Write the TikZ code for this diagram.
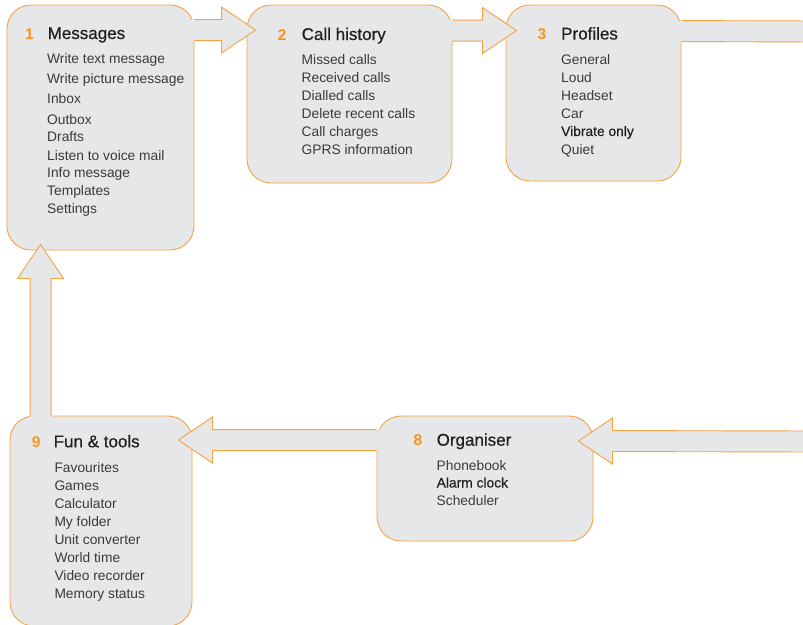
\documentclass[tikz,border=0pt]{standalone}
\usepackage{fontspec}
\setmainfont{Liberation Sans}
\newfontfamily\titlefont[FakeBold=0.6]{Liberation Sans}
\newfontfamily\medfont[FakeBold=0.3]{Liberation Sans}
\usetikzlibrary{calc}
\definecolor{boxfill}{HTML}{E6E7E8}
\definecolor{boxline}{HTML}{F6A343}
\definecolor{numorange}{HTML}{F7941D}
\definecolor{titlecol}{HTML}{231F20}
\definecolor{itemcol}{HTML}{3A3A3A}
\tikzset{
  menubox/.style={draw=boxline, fill=boxfill, line width=0.9pt, rounded corners=24pt, inner sep=0pt},
  num/.style={anchor=base west, inner sep=0pt, text=numorange, font=\fontsize{15.5}{16}\selectfont\bfseries},
  ttl/.style={anchor=base west, inner sep=0pt, text=titlecol, font=\fontsize{17}{17}\selectfont\titlefont},
  itm/.style={anchor=base west, inner sep=0pt, text=itemcol, font=\fontsize{13.8}{14}\selectfont},
  itmb/.style={itm, text=titlecol, font=\fontsize{13.8}{14}\selectfont\medfont},
  arrfill/.style={fill=boxfill},
  arrline/.style={draw=boxline, line width=0.9pt, line join=miter},
}
% horizontal block arrow: #1 start, #2 tip, #3 direction (1 right, -1 left)
\newcommand\harrow[3]{%
  \fill[arrfill] ($(#1)+({-3*(#3)},-10.5)$) -- ($(#2)+({-34*(#3)},-10.5)$) -- ($(#2)+({-34*(#3)},-23)$) -- (#2)
    -- ($(#2)+({-34*(#3)},23)$) -- ($(#2)+({-34*(#3)},10.5)$) -- ($(#1)+({-3*(#3)},10.5)$) -- cycle;
  \draw[arrline] ($(#1)+(0,-10.5)$) -- ($(#2)+({-34*(#3)},-10.5)$) -- ($(#2)+({-34*(#3)},-23)$) -- (#2)
    -- ($(#2)+({-34*(#3)},23)$) -- ($(#2)+({-34*(#3)},10.5)$) -- ($(#1)+(0,10.5)$);
}
% upward block arrow: #1 start, #2 tip
\newcommand\uarrow[2]{%
  \fill[arrfill] ($(#1)+(-10.5,3)$) -- ($(#2)+(-10.5,34)$) -- ($(#2)+(-23,34)$) -- (#2)
    -- ($(#2)+(23,34)$) -- ($(#2)+(10.5,34)$) -- ($(#1)+(10.5,3)$) -- cycle;
  \draw[arrline] ($(#1)+(-10.5,0)$) -- ($(#2)+(-10.5,34)$) -- ($(#2)+(-23,34)$) -- (#2)
    -- ($(#2)+(23,34)$) -- ($(#2)+(10.5,34)$) -- ($(#1)+(10.5,0)$);
}
\begin{document}
\begin{tikzpicture}[x=1pt,y=-1pt]
\useasboundingbox (0,0) rectangle (803,624);
\fill[white] (0,0) rectangle (803,624);
\clip (0,0) rectangle (803,624);

% boxes
\node[menubox, minimum width=187pt, minimum height=245pt] (b1) at (100.5,127.5) {};
\node[menubox, minimum width=205pt, minimum height=178pt] (b2) at (349.5,94) {};
\node[menubox, minimum width=175pt, minimum height=176pt] (b3) at (593.5,93) {};
\node[menubox, minimum width=216pt, minimum height=125pt] (b8) at (485,478.5) {};
\node[menubox, minimum width=182pt, minimum height=210pt] (b9) at (101,521) {};

% arrow end points
\path (b1.north east) ++(0,25.5) coordinate (s12);
\path (b2.north west) ++(9,25.5) coordinate (t12);
\path (b2.north east) ++(0,26) coordinate (s23);
\path (b3.north west) ++(11,26) coordinate (t23);
\path (b3.north east) ++(0,26.5) coordinate (s3x);
\coordinate (e3x) at (815,31.5);
\coordinate (e8x) at (815,441.5);
\path (b8.north east) ++(-15,25.5) coordinate (t8);
\path (b8.north west) ++(0,24.5) coordinate (s89);
\path (b9.north east) ++(-14,24.5) coordinate (t89);
\path (b9.north west) ++(31,0) coordinate (s91);
\path (b1.south west) ++(34,-6) coordinate (t91);

% arrows
\harrow{s12}{t12}{1}
\harrow{s23}{t23}{1}
\harrow{e8x}{t8}{-1}
\harrow{s89}{t89}{-1}
\uarrow{s91}{t91}
\fill[arrfill] ($(s3x)+(-3,-10.5)$) rectangle ($(e3x)+(0,10.5)$);
\draw[arrline] ($(s3x)+(0,-10.5)$) -- ($(e3x)+(0,-10.5)$);
\draw[arrline] ($(s3x)+(0,10.5)$) -- ($(e3x)+(0,10.5)$);

% box 1
\node[num] (n1) at (25,39) {1};
\node[ttl] (h1) at (47.5,39) {Messages};
\node[itm] (i11) at (47,63.3) {Write text message};
\node[itm] (i12) at (47,83.3) {Write picture message};
\node[itm] (i13) at (47,103.3) {Inbox};
\node[itm] (i14) at (47,124) {Outbox};
\node[itm] (i15) at (47,141.7) {Drafts};
\node[itm] (i16) at (47,160) {Listen to voice mail};
\node[itm] (i17) at (47,177.7) {Info message};
\node[itm] (i18) at (47,195.7) {Templates};
\node[itm] (i19) at (47,213.3) {Settings};

% box 2
\node[num] (n2) at (277.7,40) {2};
\node[ttl] (h2) at (301.5,40) {Call history};
\node[itm] (i21) at (301.5,64) {Missed calls};
\node[itm] (i22) at (301.5,82) {Received calls};
\node[itm] (i23) at (301.5,100) {Dialled calls};
\node[itm] (i24) at (301.5,118) {Delete recent calls};
\node[itm] (i25) at (301.5,136) {Call charges};
\node[itm] (i26) at (301.5,154) {GPRS information};

% box 3
\node[num] (n3) at (537.3,39.5) {3};
\node[ttl] (h3) at (561,39.5) {Profiles};
\node[itm] (i31) at (561,64) {General};
\node[itm] (i32) at (561,82) {Loud};
\node[itm] (i33) at (561,100) {Headset};
\node[itm] (i34) at (561,118) {Car};
\node[itmb] (i35) at (561,136) {Vibrate only};
\node[itm] (i36) at (561,154) {Quiet};

% box 8
\node[num] (n8) at (413.3,445.7) {8};
\node[ttl] (h8) at (436.5,445.7) {Organiser};
\node[itm] (i81) at (436.5,470) {Phonebook};
\node[itmb] (i82) at (436.5,487.5) {Alarm clock};
\node[itm] (i83) at (436.5,505.3) {Scheduler};

% box 9
\node[num] (n9) at (31.7,447.3) {9};
\node[ttl] (h9) at (53.5,447.3) {Fun \& tools};
\node[itm] (i91) at (54.3,472) {Favourites};
\node[itm] (i92) at (54.3,490) {Games};
\node[itm] (i93) at (54.3,508) {Calculator};
\node[itm] (i94) at (54.3,526) {My folder};
\node[itm] (i95) at (54.3,544) {Unit converter};
\node[itm] (i96) at (54.3,562) {World time};
\node[itm] (i97) at (54.3,580) {Video recorder};
\node[itm] (i98) at (54.3,598) {Memory status};
\end{tikzpicture}
\end{document}
